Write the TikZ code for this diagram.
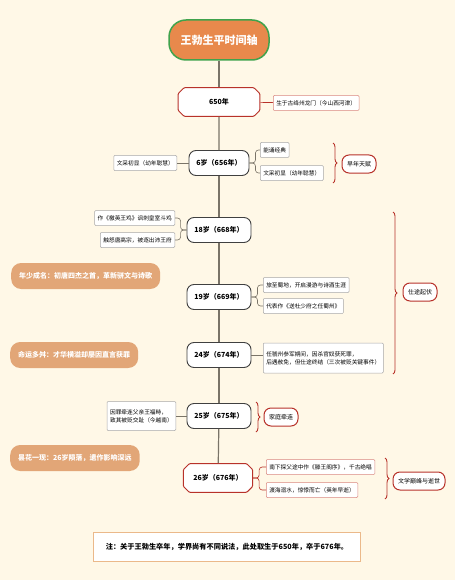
\documentclass[tikz,border=0pt]{standalone}
\usepackage{fontspec}
\setmainfont{Noto Sans CJK SC}
\usetikzlibrary{shapes.misc,decorations.pathreplacing}
\definecolor{bgcream}{HTML}{FFF8E7}
\definecolor{titleorange}{HTML}{E8894C}
\definecolor{titlegreen}{HTML}{3FA34D}
\definecolor{pilltan}{HTML}{E2A677}
\definecolor{darkred}{HTML}{B8322A}
\definecolor{notered}{HTML}{D98880}
\definecolor{axisgray}{HTML}{7A7468}
\definecolor{notegray}{HTML}{A8A8A8}
\definecolor{noteorange}{HTML}{EBB98A}
\begin{document}
\begin{tikzpicture}[x=1pt,y=-1pt,
    yearbox/.style={rounded corners=7pt, draw=black!75, line width=0.9pt, fill=white,
      minimum width=64, minimum height=25, font=\fontsize{7}{8}\selectfont\bfseries},
    yearcut/.style={chamfered rectangle, chamfered rectangle xsep=3pt,
      chamfered rectangle ysep=3pt, draw=darkred, rounded corners=1pt,
      line width=1pt, fill=white, inner ysep=8pt,
      font=\fontsize{7}{8}\selectfont\bfseries},
    notebox/.style={draw=notegray, fill=white, line width=0.5pt, rounded corners=1pt,
      minimum height=15, inner xsep=3pt, align=left, font=\fontsize{5.7}{8}\selectfont},
    noteredbox/.style={notebox, draw=notered},
    taglabel/.style={draw=darkred, line width=1pt, rounded corners=7pt, fill=white,
      minimum height=18, inner xsep=5pt, font=\fontsize{6}{7}\selectfont},
    pill/.style={rounded corners=10pt, fill=pilltan, text=white, minimum height=26,
      inner xsep=8pt, font=\fontsize{7}{8}\selectfont\bfseries},
    axis/.style={draw=axisgray, line width=1.2pt},
    link/.style={draw=axisgray, line width=0.6pt, rounded corners=3pt},
    redlink/.style={draw=darkred, line width=0.6pt, rounded corners=3pt},
    brace/.style={decorate, decoration={brace, amplitude=4pt}, draw=darkred, line width=0.9pt}]
  \useasboundingbox (0,0) rectangle (455,580);
  \fill[bgcream] (0,0) rectangle (455,580);

  % Tytul
  \node (title) at (219,40) [rounded corners=17pt, fill=titleorange, draw=titlegreen,
    line width=1.5pt, text=white, minimum width=100, minimum height=40,
    font=\fontsize{11}{13}\selectfont\bfseries] {王勃生平时间轴};

  % Lata
  \node (y650) at (219,102) [yearcut, inner xsep=28pt] {650年};
  \node (y6) at (219,163) [yearbox, minimum width=60] {6岁（656年）};
  \node (y18) at (219,230) [yearbox] {18岁（668年）};
  \node (y19) at (219,297) [yearbox] {19岁（669年）};
  \node (y24) at (219,355) [yearbox] {24岁（674年）};
  \node (y25) at (219,416) [yearbox] {25岁（675年）};
  \node (y26) at (218,478) [yearcut, inner xsep=7pt] {26岁（676年）};

  \draw[axis] (title) -- (y650);
  \draw[axis] (y650) -- (y6);
  \draw[axis] (y6) -- (y18);
  \draw[axis] (y18) -- (y19);
  \draw[axis] (y19) -- (y24);
  \draw[axis] (y24) -- (y25);
  \draw[axis] (y25) -- (y26);

  % 650
  \node (n650) at (273,103) [noteredbox, anchor=west] {生于古绛州龙门（今山西河津）};
  \draw[redlink] (y650) -- (n650);

  % 6 lat
  \node (n6l) at (177,163) [notebox, anchor=east] {文采初显（幼年聪慧）};
  \node (n6a) at (260,150) [notebox, anchor=west] {能诵经典};
  \node (n6b) at (260,173) [notebox, anchor=west] {文采初显（幼年聪慧）};
  \draw[link] (y6) -- (n6l);
  \draw[link] (y6.east) -- ++(6,0) |- (n6a.west);
  \draw[link] (y6.east) -- ++(6,0) |- (n6b.west);
  \coordinate (b6t) at (333,143);
  \coordinate (b6b) at (333,183);
  \draw[brace] (b6t) -- (b6b);
  \node (tag6) at (359,164) [taglabel] {早年天赋};

  % 18 lat
  \node (n18a) at (175,218) [notebox, anchor=east] {作《檄英王鸡》讽刺皇室斗鸡};
  \node (n18b) at (175,240) [notebox, anchor=east] {触怒唐高宗，被逐出沛王府};
  \draw[link] (y18.west) -- ++(-6,0) |- (n18a.east);
  \draw[link] (y18.west) -- ++(-6,0) |- (n18b.east);

  % 19 lat
  \node (n19a) at (263,285) [notebox, anchor=west] {旅至蜀地，开启漫游与诗酒生涯};
  \node (n19b) at (263,306) [notebox, anchor=west] {代表作《送杜少府之任蜀州》};
  \draw[link] (y19.east) -- ++(6,0) |- (n19a.west);
  \draw[link] (y19.east) -- ++(6,0) |- (n19b.west);

  % 24 lat
  \node (n24) at (263,358) [notebox, anchor=west, minimum height=30]
    {任虢州参军期间，因杀官奴获死罪，\\后遇赦免，但仕途终结（三次被贬关键事件）};
  \draw[link] (y24.east) -- (y24.east -| n24.west);
  \coordinate (b24t) at (393,212);
  \coordinate (b24b) at (393,374);
  \draw[brace] (b24t) -- (b24b);
  \node (tag24) at (420,292) [taglabel] {仕途起伏};

  % 25 lat
  \node (n25) at (176,416) [notebox, anchor=east, minimum height=29]
    {因罪牵连父亲王福畤，\\致其被贬交趾（今越南）};
  \draw[link] (y25) -- (n25);
  \coordinate (b25t) at (256,402);
  \coordinate (b25b) at (256,432);
  \draw[brace] (b25t) -- (b25b);
  \node (tag25) at (281,417) [taglabel] {家庭牵连};

  % 26 lat
  \node (n26a) at (266,467) [noteredbox, anchor=west] {南下探父途中作《滕王阁序》，千古绝唱};
  \node (n26b) at (266,490) [noteredbox, anchor=west] {渡海溺水，惊悸而亡（英年早逝）};
  \draw[redlink] (y26.east) -- ++(6,0) |- (n26a.west);
  \draw[redlink] (y26.east) -- ++(6,0) |- (n26b.west);
  \coordinate (b26t) at (385,458);
  \coordinate (b26b) at (385,499);
  \draw[brace] (b26t) -- (b26b);
  \node (tag26) at (419,481) [taglabel] {文学巅峰与逝世};

  % Podsumowania
  \node (fame) at (11,276) [pill, anchor=west] {年少成名：初唐四杰之首，革新骈文与诗歌};
  \node (fate) at (10,355) [pill, anchor=west] {命运多舛：才华横溢却屡因直言获罪};
  \node (bloom) at (10,458) [pill, anchor=west] {昙花一现：26岁陨落，遗作影响深远};

  % Uwaga
  \node (remark) at (227,547) [draw=noteorange, line width=1pt, fill=white,
    minimum width=267, minimum height=29, font=\fontsize{7.2}{9}\selectfont\bfseries]
    {注：关于王勃生卒年，学界尚有不同说法，此处取生于650年，卒于676年。};
\end{tikzpicture}
\end{document}
